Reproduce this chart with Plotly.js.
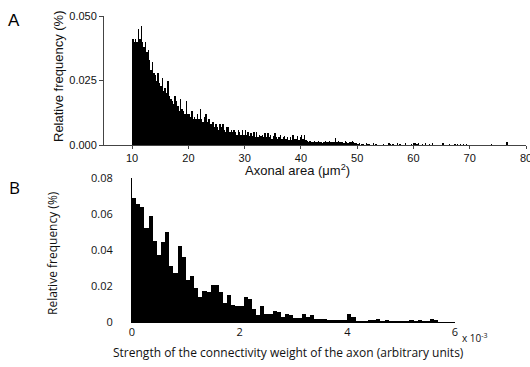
<!DOCTYPE html>
<html>
<head>
<meta charset="utf-8">
<script src="https://cdn.plot.ly/plotly-3.0.1.min.js"></script>
<style>html,body{margin:0;padding:0;background:#fff;}#chart{width:530px;height:367px;}</style>
</head>
<body>
<div id="chart"></div>
<script>
// ---- Panel A: axonal area histogram (bins of 0.25 um^2 starting at 10) ----
var binStartA = 10;
var binWidthA = 0.25;
var freqA = [
  .041,.040,.041,.040,   .045,.041,.046,.040,   .038,.040,.036,.037,
  .033,.029,.032,.028,   .027,.025,.028,.024,   .023,.026,.021,.022,
  .020,.025,.019,.018,   .017,.016,.019,.017,   .015,.013,.018,.014,
  .013,.012,.017,.012,   .012,.011,.013,.010,   .011,.010,.012,.010,
  .014,.010,.009,.011,   .012,.009,.010,.008,   .008,.009,.007,.008,
  .007,.006,.008,.007,   .008,.006,.005,.007,   .007,.005,.006,.005,
  .006,.005,.004,.006,   .005,.004,.006,.004,   .006,.004,.005,.0035,
  .0045,.0035,.005,.003, .005,.003,.004,.0035,  .004,.003,.0045,.003,
  .0045,.003,.004,.0025, .0035,.0045,.003,.0025, .003,.004,.0025,.003,
  .0035,.0025,.003,.002, .003,.002,.004,.0025,  .0025,.0035,.002,.003,
  .004,.0025,.004,.002,  .0015,.001,.0015,.001,  .001,.0015,.001,.001,
  .0015,.001,.0012,.0008,.001,.0015,.001,.0012, .0015,.001,.0012,.001,
  .0027,.001,.0015,.001, .001,.0012,.0008,.0014, .001,.0008,.0012,.001,
  .0015,.001,.0008,.0006,.0005,.0006,0,.0005,   .0004,0,.0006,.0004,
  .0005,0,0,.0007,       0,.0004,0,0,            0,0,.0005,0,
  0,0,.0006,.0004,       0,.0005,0,0,            .0006,0,.0004,0,
  0,0,.0008,0,           0,0,.0005,0,            .0006,.0006,.0005,.0006,
  0,0,.0005,0,           .0006,0,0,.0005,        0,.0008,0,0,
  0,0,0,0,               .0007,.0007,0,0,        0,.0005,0,0,
  0,.0005,0,.0005,       0,.0005,0,.0005,        0,.0005,0,0,
  0,0,0,0,               0,0,0,0,                0,0,0,0,
  0,0,0,.0005,           0,0,0,0,                0,0,0,0,
  0,0,.0013,0
];
var xTicksA = [10,20,30,40,50,60,70,80];
var yTicksA = [0,0.025,0.05];
var yTickTextA = ['0.000','0.025','0.050'];

// ---- Panel B: connectivity weight histogram (x in units of 1e-3) ----
var binStartB = 0;
var binWidthB = 0.0769;
var freqB = [
  .0689,.0654,.0641,.0520,.0590,.0452,.0372,.0443,.0502,.0313,
  .0272,.0420,.0361,.0235,.0254,.0187,.0137,.0174,.0165,.0204,
  .0204,.0165,.0106,.0150,.0094,.0087,.0087,.0137,.0128,.0072,
  .0039,.0087,.0044,.0044,.0063,.0054,.0028,.0044,.0039,.0020,
  .0024,.0046,.0028,.0037,.0018,.0018,.0018,.0011,.0011,.0011,
  .0011,.0011,.0046,.0030,.0004,.0004,.0004,.0011,.0011,.0018,
  .0004,.0010,.0004,.0004,.0004,.0004,.0004,.0010,.0004,.0011,
  .0004,.0004,.0018,.0010
];
var xTicksB = [0,2,4,6];
var yTicksB = [0,0.02,0.04,0.06,0.08];

var W = 530, H = 367;
function px(x){return x/W;}
function py(y){return 1 - y/H;}

var helv = '"Liberation Sans", Arial, sans-serif';
var myriad = '"Open Sans", sans-serif';

var traces = [
  {type:'bar', x0: binStartA + binWidthA/2, dx: binWidthA, y: freqA,
   xaxis:'x', yaxis:'y', marker:{color:'#000', line:{width:0}}, hoverinfo:'skip'},
  {type:'bar', x0: binStartB + binWidthB/2, dx: binWidthB, y: freqB,
   xaxis:'x2', yaxis:'y2', marker:{color:'#000', line:{width:0}}, hoverinfo:'skip'}
];

function ann(text, x, y, font, angle){
  return {text:text, x:px(x), y:py(y), xref:'paper', yref:'paper', showarrow:false,
    xanchor:'center', yanchor:'middle', textangle:angle||0, font:font};
}

var layout = {
  width: W, height: H,
  margin:{l:0,r:0,t:0,b:0},
  paper_bgcolor:'#fff', plot_bgcolor:'rgba(0,0,0,0)',
  showlegend:false, bargap:0,
  xaxis:{domain:[px(104), px(526)], range:[5,80], tickvals:xTicksA,
    ticks:'outside', ticklen:3, tickcolor:'#444', tickwidth:1, ticklabeloverflow:'allow',
    showline:true, linecolor:'#444', linewidth:1, showgrid:false, zeroline:false,
    tickfont:{family:helv, size:11, color:'#111'}, anchor:'y', fixedrange:true},
  yaxis:{domain:[py(145), py(16)], range:[0,0.05], tickvals:yTicksA, ticktext:yTickTextA,
    ticks:'outside', ticklen:4, tickcolor:'#444', tickwidth:1,
    showline:true, linecolor:'#444', linewidth:1, showgrid:false, zeroline:false,
    tickfont:{family:helv, size:11, color:'#111'}, anchor:'x', fixedrange:true},
  xaxis2:{domain:[px(132), px(455)], range:[0,6], tickvals:xTicksB, ticklabeloverflow:'allow',
    ticks:'', showline:true, linecolor:'#000', linewidth:1, showgrid:false, zeroline:false,
    tickfont:{family:myriad, size:11, color:'#111'}, anchor:'y2', fixedrange:true},
  yaxis2:{domain:[py(322), py(178)], range:[0,0.08], tickvals:yTicksB,
    ticks:'outside', ticklen:16, tickcolor:'rgba(0,0,0,0)',
    showline:true, linecolor:'#000', linewidth:1, showgrid:false, zeroline:false,
    tickfont:{family:myriad, size:11, color:'#111'}, anchor:'x2', fixedrange:true},
  annotations:[
    ann('A', 14, 21, {family:helv, size:17, color:'#000'}),
    ann('B', 14, 187, {family:myriad, size:17, color:'#000'}),
    ann('Relative frequency (%)', 59, 76, {family:helv, size:13, color:'#111'}, -90),
    ann('Axonal area (\u03bcm<sup>2</sup>)', 297, 170, {family:helv, size:13, color:'#111'}),
    ann('Relative frequency (%)', 52, 253, {family:myriad, size:12, color:'#111'}, -90),
    ann('Strength of the connectivity weight of the axon (arbitrary units)', 288, 352, {family:myriad, size:12, color:'#111'}),
    ann('x 10<sup>-3</sup>', 475, 338, {family:myriad, size:10, color:'#111'})
  ]
};

Plotly.newPlot('chart', traces, layout, {staticPlot:true, displayModeBar:false});
</script>
</body>
</html>
